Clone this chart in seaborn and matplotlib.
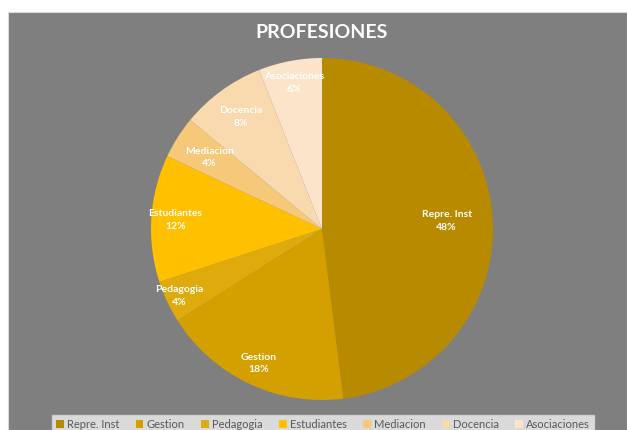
import numpy as np
import matplotlib
matplotlib.use("Agg")
import matplotlib.pyplot as plt
import seaborn as sns
from matplotlib.patches import Rectangle

# =====================================================
# DATA
# =====================================================

categories = ["Repre. Inst", "Gestion", "Pedagogia", "Estudiantes",
              "Mediacion", "Docencia", "Asociaciones"]
shares = [48, 18, 4, 12, 4, 8, 6]

colors = ["#B88A00", "#D4A000", "#DFAA0C", "#FFC000",
          "#F6C879", "#F9D9AE", "#FCE4CB"]

# radial position of each label (fraction of radius)
label_r = [0.73, 0.87, 0.92, 0.86, 0.78, 0.81, 0.87]

# =====================================================
# FIGURE
# =====================================================

sns.set_style("white")
plt.rcParams["font.family"] = ["Lato", "DejaVu Sans"]

W, H = 627, 430
fig = plt.figure(figsize=(W / 100, H / 100), dpi=100, facecolor="white")

# gray chart area
fig.patches.append(Rectangle((8 / W, 0), 1 - 8 / W, (H - 12) / H,
                             transform=fig.transFigure,
                             facecolor="#7F7F7F", edgecolor="#D9D9D9",
                             linewidth=0.8, zorder=-10))

cx, cy, r = 322, 229, 171
ax = fig.add_axes([(cx - r) / W, (H - cy - r) / H, 2 * r / W, 2 * r / H])
ax.set_facecolor("none")
ax.patch.set_alpha(0)

wedges, _ = ax.pie(shares, colors=colors, startangle=90, counterclock=False,
                   radius=1, wedgeprops=dict(linewidth=0))

total = sum(shares)
for w, name, val, d in zip(wedges, categories, shares, label_r):
    ang = np.deg2rad((w.theta1 + w.theta2) / 2)
    ax.text(d * np.cos(ang), d * np.sin(ang),
            f"{name}\n{val / total * 100:.0f}%",
            ha="center", va="center", color="white",
            fontsize=7.5, fontweight="bold", linespacing=1.5)

ax.set_xlim(-1, 1)
ax.set_ylim(-1, 1)
ax.axis("off")

fig.text(cx / W, (H - 33) / H, "PROFESIONES", ha="center", va="center",
         color="white", fontsize=14, fontweight="bold")

leg = fig.legend(wedges, categories, loc="upper center", ncol=7,
                 bbox_to_anchor=(323 / W, 21 / H), frameon=True,
                 fancybox=False, fontsize=8, handlelength=0.7,
                 handleheight=0.7, handletextpad=0.3, columnspacing=1.45,
                 borderpad=0.4)
leg.get_frame().set_facecolor("#F2F2F2")
leg.get_frame().set_edgecolor("#D9D9D9")
for t in leg.get_texts():
    t.set_color("#595959")

fig.savefig("out.png", dpi=100)
plt.close()
